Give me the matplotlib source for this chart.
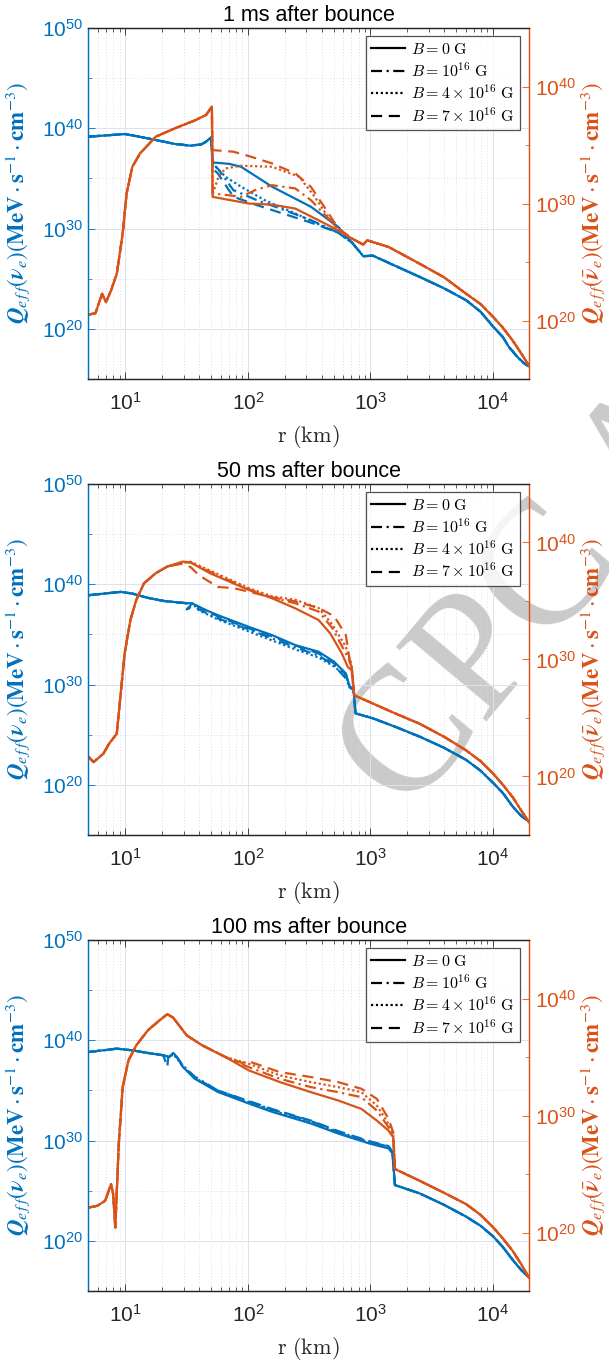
import numpy as np
import matplotlib
matplotlib.use('Agg')
import matplotlib.pyplot as plt
from matplotlib.ticker import FixedLocator, FuncFormatter, NullFormatter
from matplotlib.lines import Line2D

plt.rcParams['font.family'] = ['Liberation Sans', 'DejaVu Sans']
plt.rcParams['mathtext.fontset'] = 'custom'
plt.rcParams['mathtext.rm'] = 'Liberation Sans'
plt.rcParams['mathtext.it'] = 'Liberation Sans:italic'
plt.rcParams['mathtext.bf'] = 'Liberation Sans:bold'

BLUE = '#0072BD'
ORANGE = '#D95319'
DARK = '#262626'

titles = ['1 ms after bounce', '50 ms after bounce', '100 ms after bounce']
field_labels = [r'$B = 0\ \mathrm{G}$', r'$B = 10^{16}\ \mathrm{G}$',
                r'$B = 4\times10^{16}\ \mathrm{G}$', r'$B = 7\times10^{16}\ \mathrm{G}$']

# all values are log10: r in km, Q in MeV s^-1 cm^-3
# order of the field variants: B = 0, 1e16, 4e16, 7e16

# ---- 1 ms ----
nu1_in_r = [0.702, 0.85, 0.994, 1.12, 1.247, 1.40, 1.532, 1.62, 1.659, 1.700]
nu1_in_q = [39.17, 39.30, 39.43, 39.15, 38.84, 38.45, 38.27, 38.40, 38.67, 39.10]
nu1_mid_r = [[1.712, 1.85, 1.944, 2.197, 2.514, 2.736],
             [1.712, 1.76, 1.881, 2.071, 2.261, 2.514, 2.736],
             [1.712, 1.817, 1.944, 2.134, 2.387, 2.60, 2.736],
             [1.712, 1.754, 1.881, 2.071, 2.261, 2.514, 2.736]]
nu1_mid_q = [[36.60, 36.45, 36.17, 34.18, 32.18, 30.18],
             [36.50, 35.90, 33.84, 32.85, 32.01, 30.85, 29.60],
             [36.50, 35.17, 34.18, 32.85, 31.51, 30.30, 29.60],
             [36.00, 35.51, 33.18, 32.35, 31.60, 30.60, 29.60]]
nu1_out_r = [2.85, 2.942, 3.021, 3.20, 3.401, 3.60, 3.781, 3.90, 4.003, 4.08, 4.13, 4.20,
             4.256, 4.294]
nu1_out_q = [28.60, 27.25, 27.30, 26.30, 25.19, 24.05, 22.86, 21.70, 20.20, 19.20, 18.20,
             17.20, 16.54, 16.27]

an1_in_r = [0.702, 0.756, 0.81, 0.842, 0.883, 0.930, 0.978, 1.01, 1.057, 1.12, 1.184,
            1.247, 1.405, 1.564, 1.659, 1.706]
an1_in_q = [20.51, 20.63, 22.29, 21.57, 22.57, 24.00, 27.43, 30.86, 33.14, 34.29, 35.00,
            35.71, 36.43, 37.09, 37.57, 38.29]
an1_mid_r = [[1.712, 2.007, 2.197, 2.387, 2.577, 2.736],
             [1.712, 1.85, 1.944, 2.07, 2.197, 2.387, 2.514, 2.672, 2.736],
             [1.712, 1.76, 1.817, 1.944, 2.197, 2.419, 2.546, 2.672, 2.736],
             [1.712, 1.881, 2.007, 2.197, 2.387, 2.514, 2.641, 2.736]]
an1_mid_q = [[30.57, 30.00, 29.91, 29.57, 28.57, 27.71],
             [30.86, 30.70, 30.57, 31.20, 31.57, 31.29, 30.29, 28.57, 27.80],
             [30.80, 32.30, 33.00, 33.23, 33.14, 32.29, 30.57, 28.57, 27.80],
             [34.57, 34.43, 34.06, 33.43, 32.57, 31.43, 29.43, 27.90]]
an1_out_r = [2.85, 2.942, 2.973, 3.148, 3.401, 3.60, 3.781, 3.90, 4.003, 4.08, 4.161, 4.23,
             4.294]
an1_out_q = [27.00, 26.49, 26.86, 26.29, 24.86, 23.70, 22.29, 21.40, 20.29, 19.40, 18.29,
             17.20, 16.14]

# ---- 50 ms ----
nu2_in_r = [0.702, 0.85, 0.962, 1.057, 1.184, 1.31, 1.469, 1.548]
nu2_in_q = [38.91, 39.10, 39.24, 39.07, 38.64, 38.34, 38.14, 38.08]
nu2_mid_r = [[1.627, 1.754, 2.007, 2.197, 2.387, 2.577, 2.704, 2.799, 2.831, 2.862],
             [1.600, 1.754, 2.007, 2.197, 2.387, 2.577, 2.704, 2.800, 2.830, 2.862],
             [1.600, 1.754, 2.007, 2.197, 2.387, 2.577, 2.704, 2.800, 2.830, 2.862],
             [1.500, 1.520, 1.560, 1.754, 2.007, 2.197, 2.387, 2.577, 2.704, 2.800, 2.830, 2.862]]
nu2_mid_q = [[37.58, 36.92, 35.75, 34.93, 33.93, 33.27, 32.27, 31.11, 29.78, 29.62],
             [37.50, 36.60, 35.50, 34.60, 33.70, 32.90, 31.90, 30.60, 29.70, 29.50],
             [37.40, 36.50, 35.30, 34.40, 33.50, 32.70, 31.80, 30.80, 29.90, 29.60],
             [37.50, 37.60, 38.00, 36.80, 35.60, 34.80, 33.90, 33.10, 32.10, 31.00, 29.70, 29.50]]
nu2_out_r = [2.878, 3.021, 3.20, 3.401, 3.60, 3.781, 3.90, 4.003, 4.08, 4.161, 4.23, 4.294]
nu2_out_q = [27.13, 26.63, 25.80, 24.81, 23.70, 22.49, 21.40, 20.17, 19.20, 17.84, 16.90, 16.35]

an2_in_r = [0.702, 0.74, 0.82, 0.867, 0.93, 0.962, 0.994, 1.041, 1.089, 1.152, 1.247, 1.342]
an2_in_q = [21.66, 21.23, 21.94, 22.80, 23.66, 27.09, 30.51, 33.37, 35.09, 36.51, 37.37, 37.94]
an2_mid_r = [[1.469, 1.532, 1.691, 1.881, 2.007, 2.197, 2.387, 2.577, 2.672, 2.767, 2.815, 2.846],
             [1.469, 1.532, 1.691, 1.881, 2.007, 2.197, 2.387, 2.577, 2.688, 2.815, 2.846],
             [1.469, 1.532, 1.691, 1.881, 2.007, 2.197, 2.387, 2.577, 2.688, 2.799, 2.846],
             [1.469, 1.532, 1.600, 1.754, 1.881, 2.007, 2.197, 2.387, 2.577, 2.704, 2.799, 2.830, 2.846]]
an2_mid_q = [[38.37, 38.29, 37.37, 36.51, 35.94, 35.23, 34.37, 33.37, 32.23, 30.51, 29.37, 29.09],
             [38.30, 38.30, 37.50, 36.60, 36.00, 35.30, 34.80, 34.10, 32.70, 30.20, 29.40],
             [38.30, 38.35, 37.60, 36.70, 36.10, 35.40, 35.10, 34.40, 33.00, 31.10, 29.50],
             [38.20, 37.90, 37.20, 36.20, 36.10, 35.80, 35.30, 34.97, 34.40, 33.70, 32.10, 30.00, 29.60]]
an2_out_r = [2.868, 3.021, 3.20, 3.401, 3.60, 3.781, 3.90, 4.003, 4.08, 4.161, 4.23, 4.294]
an2_out_q = [26.94, 26.23, 25.40, 24.51, 23.40, 22.23, 21.30, 20.23, 19.30, 18.23, 17.10, 16.09]

# ---- 100 ms ----
nu3_in_r = [0.702, 0.85, 0.930, 1.057, 1.184, 1.31]
nu3_in_q = [38.84, 39.05, 39.17, 39.00, 38.74, 38.51]
nu3_mid_r = [[1.358, 1.39, 1.421, 1.469, 1.564, 1.754, 2.007, 2.197, 2.514, 2.736, 2.989, 3.148, 3.18],
             [1.358, 1.39, 1.421, 1.469, 1.564, 1.754, 2.007, 2.197, 2.514, 2.736, 2.989, 3.148, 3.18],
             [1.358, 1.39, 1.421, 1.469, 1.564, 1.754, 2.007, 2.197, 2.514, 2.736, 2.989, 3.148, 3.18],
             [1.342, 1.35, 1.39, 1.421, 1.469, 1.564, 1.754, 2.007, 2.197, 2.514, 2.736, 2.989, 3.148, 3.18]]
nu3_mid_q = [[38.34, 38.74, 38.34, 37.35, 36.19, 34.86, 33.70, 32.87, 31.71, 30.71, 29.72, 29.22, 28.72],
             [38.34, 38.70, 38.30, 37.50, 36.40, 35.00, 33.90, 33.10, 31.95, 30.90, 29.90, 29.40, 28.80],
             [38.34, 38.60, 38.20, 37.40, 36.30, 34.90, 33.80, 33.00, 31.85, 30.80, 29.80, 29.30, 28.80],
             [37.35, 38.30, 38.60, 38.30, 37.45, 36.30, 35.00, 33.95, 33.15, 32.00, 30.95, 29.95, 29.45, 28.90]]
nu3_out_r = [3.20, 3.401, 3.60, 3.781, 3.90, 4.003, 4.08, 4.161, 4.23, 4.294]
nu3_out_q = [25.57, 24.74, 23.60, 22.42, 21.50, 20.43, 19.40, 18.11, 17.10, 16.35]

an3_in_r = [0.702, 0.772, 0.835, 0.883, 0.90, 0.918, 0.946, 0.978, 1.025, 1.089, 1.184,
            1.279, 1.342, 1.39, 1.5, 1.627, 1.817]
an3_in_q = [22.14, 22.29, 22.71, 24.14, 23.30, 20.43, 27.57, 32.43, 34.71, 36.00, 37.29,
            38.14, 38.66, 38.37, 36.86, 36.00, 35.00]
an3_mid_r = [[2.007, 2.261, 2.514, 2.736, 2.926, 3.052, 3.148, 3.186],
             [2.007, 2.261, 2.514, 2.736, 2.926, 3.052, 3.148, 3.186],
             [2.007, 2.261, 2.514, 2.736, 2.926, 3.052, 3.148, 3.186],
             [1.95, 2.007, 2.261, 2.514, 2.736, 2.926, 3.052, 3.148, 3.186]]
an3_mid_q = [[33.86, 32.86, 32.00, 31.29, 30.57, 29.57, 28.71, 28.14],
             [34.14, 33.14, 32.43, 32.00, 31.57, 30.43, 29.00, 28.30],
             [34.43, 33.43, 32.86, 32.43, 32.00, 30.86, 29.29, 28.40],
             [34.50, 34.63, 33.71, 33.29, 32.86, 32.29, 31.43, 29.71, 28.57]]
an3_out_r = [3.20, 3.401, 3.60, 3.781, 3.90, 4.003, 4.08, 4.161, 4.23, 4.294]
an3_out_q = [25.43, 24.43, 23.40, 22.43, 21.50, 20.43, 19.50, 18.43, 17.30, 16.14]

line_styles = ['-', (0, (5, 2, 1, 2)), (0, (1, 1.2)), (0, (5, 3))]


def join(in_v, mid_v, out_v):
    return np.array(in_v + mid_v + out_v)


def draw_panel(ax, title, nu, an):
    ax2 = ax.twinx()
    for k in range(4):
        r = join(nu[0], nu[2][k], nu[4])
        q = join(nu[1], nu[3][k], nu[5])
        ax.plot(10**r, 10**q, color=BLUE, lw=1.6, linestyle=line_styles[k])
        r = join(an[0], an[2][k], an[4])
        q = join(an[1], an[3][k], an[5])
        ax2.plot(10**r, 10**q, color=ORANGE, lw=1.6, linestyle=line_styles[k])

    ax.set_xscale('log')
    ax.set_yscale('log')
    ax2.set_yscale('log')
    ax.set_xlim(5, 10**4.294)
    ax.set_ylim(1e15, 1e50)
    ax2.set_ylim(1e15, 1e45)
    ax.set_facecolor('none')

    fmt = FuncFormatter(lambda v, p: r'$10^{%d}$' % round(np.log10(v)))
    ax.xaxis.set_major_locator(FixedLocator([1e1, 1e2, 1e3, 1e4]))
    ax.xaxis.set_minor_locator(FixedLocator([m * 10**e for e in range(0, 5) for m in range(2, 10)]))
    ax.xaxis.set_major_formatter(fmt)
    ax.xaxis.set_minor_formatter(NullFormatter())
    ax.yaxis.set_major_locator(FixedLocator([1e20, 1e30, 1e40, 1e50]))
    ax.yaxis.set_minor_locator(FixedLocator([1e25, 1e35, 1e45]))
    ax.yaxis.set_major_formatter(fmt)
    ax.yaxis.set_minor_formatter(NullFormatter())
    ax2.yaxis.set_major_locator(FixedLocator([1e20, 1e30, 1e40]))
    ax2.yaxis.set_minor_locator(FixedLocator([1e25, 1e35]))
    ax2.yaxis.set_major_formatter(fmt)
    ax2.yaxis.set_minor_formatter(NullFormatter())

    ax.tick_params(axis='x', which='both', direction='in', top=True, colors=DARK, labelsize=15)
    ax.tick_params(axis='x', which='major', length=5, width=0.6, pad=9)
    ax.tick_params(axis='x', which='minor', length=3, width=0.5)
    ax.tick_params(axis='y', which='both', direction='in', colors=BLUE, labelsize=15)
    ax.tick_params(axis='y', which='major', length=5, width=0.6, pad=4)
    ax.tick_params(axis='y', which='minor', length=3, width=0.5)
    ax2.tick_params(axis='y', which='both', direction='in', colors=ORANGE, labelsize=15)
    ax2.tick_params(axis='y', which='major', length=5, width=0.6, pad=4)
    ax2.tick_params(axis='y', which='minor', length=3, width=0.5)

    ax.grid(True, which='major', color='#dfe0ee', lw=0.7)
    ax.grid(True, which='minor', color='#d6d6de', lw=0.6, linestyle=(0, (1, 2.5)))
    ax.set_axisbelow(True)

    for a in (ax, ax2):
        a.spines['top'].set_color(DARK)
        a.spines['bottom'].set_color(DARK)
        a.spines['left'].set_color(BLUE)
        a.spines['right'].set_color(ORANGE)
        for s in a.spines.values():
            s.set_linewidth(0.9)

    ax.set_title(title, fontsize=15.5, pad=5)
    ax.set_xlabel(r'$\mathrm{r\ (km)}$', fontsize=16, color=DARK, math_fontfamily='cm')
    ax.xaxis.set_label_coords(0.5, -0.125)
    ax.set_ylabel(r'$\boldsymbol{Q}_{e\,f\,f}(\boldsymbol{\nu}_e)'
                  r'(\mathbf{MeV}\cdot\mathbf{s}^{-1}\cdot\mathbf{cm}^{-3})$',
                  fontsize=16.5, color=BLUE, math_fontfamily='stix')
    ax.yaxis.set_label_coords(-0.128, 0.5)
    ax2.set_ylabel(r'$\boldsymbol{Q}_{e\,f\,f}(\bar{\boldsymbol{\nu}}_e)'
                   r'(\mathbf{MeV}\cdot\mathbf{s}^{-1}\cdot\mathbf{cm}^{-3})$',
                   fontsize=16.5, color=ORANGE, rotation=90, math_fontfamily='stix')
    ax2.yaxis.set_label_coords(1.112, 0.5)

    handles = [Line2D([], [], color='black', lw=1.6, linestyle=s) for s in line_styles]
    leg = ax2.legend(handles, field_labels, loc='upper right', bbox_to_anchor=(0.98, 0.976),
                     fontsize=11.5, frameon=True, fancybox=False, borderaxespad=0,
                     handlelength=2.1, handletextpad=0.4, labelspacing=0.25, borderpad=0.35)
    leg.get_frame().set_edgecolor(DARK)
    leg.get_frame().set_linewidth(0.9)
    for t in leg.get_texts():
        t.set_math_fontfamily('cm')


fig = plt.figure(figsize=(6.09, 13.61), dpi=100)
panel_data = [
    ((nu1_in_r, nu1_in_q, nu1_mid_r, nu1_mid_q, nu1_out_r, nu1_out_q),
     (an1_in_r, an1_in_q, an1_mid_r, an1_mid_q, an1_out_r, an1_out_q)),
    ((nu2_in_r, nu2_in_q, nu2_mid_r, nu2_mid_q, nu2_out_r, nu2_out_q),
     (an2_in_r, an2_in_q, an2_mid_r, an2_mid_q, an2_out_r, an2_out_q)),
    ((nu3_in_r, nu3_in_q, nu3_mid_r, nu3_mid_q, nu3_out_r, nu3_out_q),
     (an3_in_r, an3_in_q, an3_mid_r, an3_mid_q, an3_out_r, an3_out_q)),
]
bottoms = [0.7215, 0.3865, 0.0514]
for i in range(3):
    ax = fig.add_axes([0.1453, bottoms[i], 0.7233, 0.2579])
    draw_panel(ax, titles[i], panel_data[i][0], panel_data[i][1])

# journal stamp behind the plots
fig.text(0.668, 0.40, 'CPC Accepted', rotation=50, rotation_mode='anchor',
         ha='left', va='baseline', fontsize=128, color='#cacaca',
         family='Liberation Serif', zorder=-1)

fig.savefig('out.png', dpi=100)
